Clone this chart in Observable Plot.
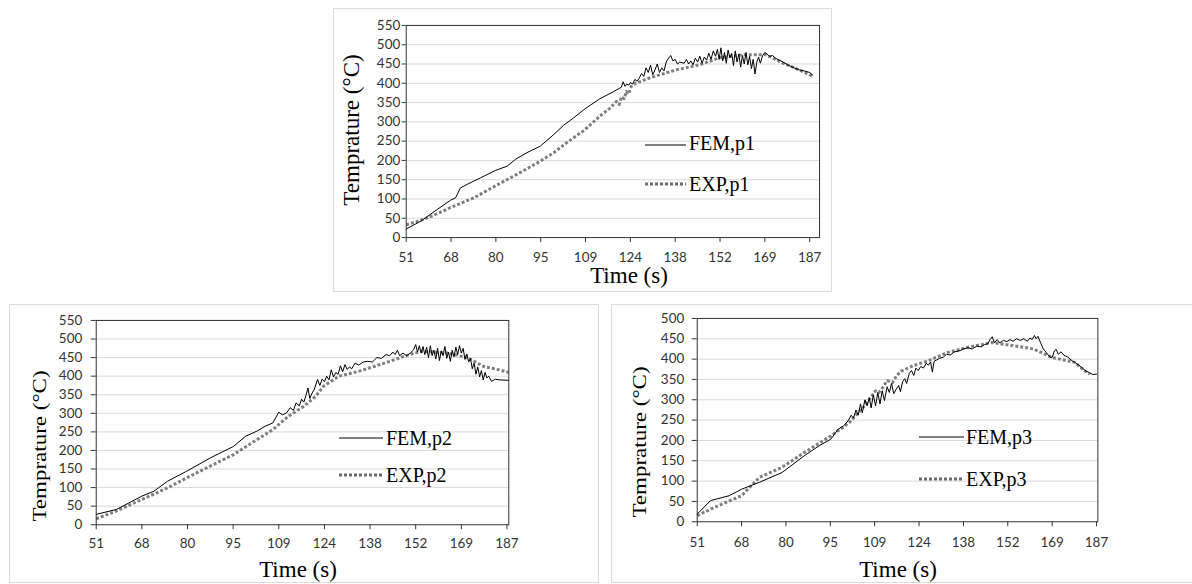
<!DOCTYPE html>
<html>
<head>
<meta charset="utf-8">
<script src="https://cdn.jsdelivr.net/npm/d3@7"></script>
<script src="https://cdn.jsdelivr.net/npm/@observablehq/plot@0.6"></script>
<style>
  html, body { margin: 0; padding: 0; background: #fff; }
  body { width: 1192px; height: 584px; position: relative; overflow: hidden; }
  .panel { position: absolute; box-sizing: border-box; border: 1px solid #dcdcdc; background: #fff; }
  .panel svg { display: block; }
  #overlay { position: absolute; left: 0; top: 0; pointer-events: none; }
  #overlay text { font-family: "Liberation Serif", "Times New Roman", serif; fill: #000; }
</style>
</head>
<body>
<div id="p1" class="panel" style="left:333px;top:8px;width:499px;height:284px;"></div>
<div id="p2" class="panel" style="left:9px;top:304px;width:590px;height:279px;"></div>
<div id="p3" class="panel" style="left:611px;top:304px;width:590px;height:279px;"></div>
<svg id="overlay" width="1192" height="584"></svg>
<script>
// Category-axis tick labels (Time, s) — evenly spaced categories
const tickLabels = [51, 68, 80, 95, 109, 124, 138, 152, 169, 187];

// Series: [category position, temperature °C]
const fem1 = [[0,22],[0.33,43],[0.62,67],[0.99,97],[1.10,103],[1.21,129],[1.36,138],[1.66,155],[1.99,174],[2.25,185],[2.44,203],[2.69,220],[2.99,237],[3.29,267],[3.51,291],[3.73,310],[3.99,334],[4.32,360],[4.62,378],
  [4.80,390],[4.84,404],[4.88,392],[4.92,398],[4.96,395],[5.00,402],[5.05,398],[5.10,410],[5.15,405],
  [5.20,414],[5.25,425],[5.30,418],[5.35,440],[5.40,428],[5.45,447],[5.50,422],[5.55,435],[5.60,450],[5.65,428],[5.70,440],[5.75,432],[5.80,455],[5.85,465],[5.90,472],[5.95,458],[6.00,462],[6.05,450],[6.10,455],[6.20,452],[6.25,462],[6.30,450],[6.35,458],[6.40,448],[6.45,465],[6.50,455],[6.55,470],[6.60,452],[6.65,468],[6.70,460],[6.75,478],[6.80,462],[6.85,484],
  [6.90,470],[6.94,488],[6.98,462],[7.02,492],[7.06,458],[7.10,480],[7.14,452],[7.18,486],[7.22,466],[7.26,478],[7.30,446],[7.34,484],[7.38,455],[7.42,476],[7.46,442],[7.50,472],[7.54,450],[7.58,480],[7.62,448],[7.66,470],[7.70,438],[7.74,462],[7.78,424],[7.82,455],[7.86,468],[7.90,452],[7.95,472],[8.00,480],
  [8.05,476],[8.10,470],[8.17,472],[8.25,464],[8.36,458],[8.45,452],[8.54,446],[8.65,440],[8.76,435],[8.88,432],[9.00,428],[9.07,421]];
const exp1 = [[0,33],[0.33,45],[0.62,58],[0.99,78],[1.51,103],[1.99,134],[2.47,164],[2.99,198],[3.29,220],[3.58,246],[3.99,280],[4.32,315],[4.54,335],[4.69,353],[4.75,345],[4.80,365],[4.86,360],[4.91,379],[4.96,372],[5.02,392],[5.06,397],[5.43,414],[5.80,427],[6.03,435],[6.54,448],[6.99,466],[7.51,474],[8.02,474],[8.39,453],[8.76,435],[9.07,418]];

const fem2 = [[0,28],[0.44,41],[1.0,77],[1.26,90],[1.56,117],[1.98,144],[2.50,180],[3.01,211],[3.27,238],[3.52,252],[3.70,265],[3.87,274],
  [4.00,303],[4.08,296],[4.17,301],[4.25,315],[4.32,308],[4.38,328],[4.45,320],[4.50,338],[4.55,330],[4.60,350],[4.64,368],[4.68,340],[4.72,352],[4.78,365],[4.85,391],[4.90,375],[4.95,392],[5.00,385],[5.05,400],[5.10,390],[5.15,417],[5.20,398],[5.25,410],[5.30,405],[5.35,428],[5.40,412],[5.45,431],[5.50,418],[5.55,425],[5.60,420],[5.67,435],[5.75,430],[5.85,438],[5.95,440],[6.05,438],[6.15,450],[6.25,448],[6.35,458],[6.43,455],[6.50,465],[6.55,458],[6.60,470],[6.65,455],[6.72,462],[6.80,455],[6.88,462],[6.95,470],
  [7.00,485],[7.04,465],[7.08,482],[7.12,462],[7.16,480],[7.20,458],[7.24,478],[7.28,450],[7.32,482],[7.36,455],[7.40,470],[7.44,446],[7.48,475],[7.52,442],[7.56,468],[7.60,455],[7.64,480],[7.68,448],[7.72,465],[7.76,440],[7.80,470],[7.84,452],[7.88,478],[7.92,458],[7.96,482],[8.00,462],[8.04,475],[8.08,445],[8.12,460],[8.16,438],[8.20,448],[8.24,420],[8.28,435],[8.32,405],[8.36,425],[8.40,398],[8.44,415],[8.48,390],[8.52,410],[8.56,395],[8.60,400],[8.66,386],[8.75,392],[8.83,390],[9.00,389],[9.04,389]];
const exp2 = [[0,16],[0.44,37],[1.0,68],[1.56,99],[1.98,126],[2.50,158],[3.01,189],[3.52,229],[3.87,256],[4.21,292],[4.55,319],[4.81,346],[4.98,373],[5.32,400],[5.75,413],[6.09,426],[6.43,440],[6.86,458],[7.12,467],[7.72,462],[8.15,449],[8.49,426],[8.83,417],[9.04,410]];

const fem3 = [[0,19],[0.30,52],[0.72,64],[1.0,80],[1.40,97],[1.91,121],[2.41,162],[2.75,187],[3.01,203],[3.18,228],
  [3.30,236],[3.40,248],[3.47,262],[3.52,255],[3.58,275],[3.63,262],[3.68,290],[3.72,268],[3.78,300],[3.83,285],[3.88,305],[3.92,280],[3.97,312],[4.02,285],[4.07,318],[4.12,290],[4.17,322],[4.22,298],[4.28,332],[4.33,318],[4.38,340],[4.43,315],[4.48,325],[4.54,335],[4.58,320],[4.63,345],[4.68,352],[4.72,340],[4.78,365],[4.83,372],[4.88,360],[4.93,378],[4.98,372],[5.04,382],[5.10,378],[5.16,390],[5.21,385],[5.26,393],[5.30,368],[5.34,395],[5.40,398],[5.46,402],[5.55,405],[5.62,412],[5.70,410],[5.80,418],[5.90,420],[6.00,425],[6.10,428],[6.20,425],[6.30,432],[6.40,430],[6.48,436],[6.55,438],[6.60,448],[6.65,455],[6.70,440],[6.76,448],[6.82,440],[6.90,446],[6.98,443],[7.05,448],[7.12,444],[7.20,450],[7.28,446],[7.36,450],[7.44,444],[7.50,452],[7.55,448],[7.60,458],[7.64,450],[7.68,456],[7.74,440],[7.80,425],[7.87,416],[7.95,405],[8.00,404],[8.05,420],[8.09,424],[8.14,412],[8.20,418],[8.26,410],[8.35,405],[8.45,396],[8.51,392],[8.60,385],[8.68,378],[8.76,371],[8.85,366],[8.92,362],[9.00,363]];
const exp3 = [[0,15],[0.38,35],[1.0,64],[1.40,109],[1.91,134],[2.41,170],[3.01,211],[3.43,244],[3.77,285],[3.94,310],[4.02,322],[4.10,318],[4.18,330],[4.28,347],[4.40,342],[4.50,360],[4.61,371],[4.87,384],[5.21,396],[5.63,416],[6.14,430],[6.65,441],[7.07,434],[7.58,425],[8.0,404],[8.51,392],[8.76,369],[8.85,363]];

const yTitle = "Temprature (°C)";
const xTitle = "Time (s)";
const seriesNames = [["FEM,p1", "EXP,p1"], ["FEM,p2", "EXP,p2"], ["FEM,p3", "EXP,p3"]];

function makeChart(o) {
  return Plot.plot({
    width: o.width, height: o.height,
    marginLeft: o.ml, marginRight: o.mr, marginTop: o.mt, marginBottom: o.mb,
    style: {fontFamily: "Lato, 'Liberation Sans', sans-serif", fontSize: "13.5px", color: "#333", background: "transparent", overflow: "visible"},
    x: {domain: [0, o.xmax]},
    y: {domain: [0, o.ymax]},
    marks: [
      Plot.gridY(d3.range(50, o.ymax + 1, 50), {stroke: "#d9d9d9", strokeOpacity: 1, strokeWidth: 1}),
      Plot.axisY(d3.range(0, o.ymax + 1, 50), {tickSize: o.yts, tickPadding: o.ytp, label: null, stroke: "#333"}),
      Plot.axisX(d3.range(tickLabels.length), {tickFormat: i => tickLabels[i], tickSize: 5, tickPadding: o.xtp, label: null, stroke: "#333"}),
      Plot.line(o.exp, {x: d => d[0], y: d => d[1], stroke: "#808080", strokeWidth: 3, strokeDasharray: "3 2", strokeLinecap: "butt"}),
      Plot.line(o.fem, {x: d => d[0], y: d => d[1], stroke: "#000", strokeWidth: 1}),
      Plot.frame({stroke: "#333", strokeWidth: 1})
    ]
  });
}

document.getElementById("p1").append(makeChart({width: 499, height: 284, ml: 72, mr: 12, mt: 16, mb: 55, xmax: 9.22, ymax: 550, yts: 4, ytp: 2, xtp: 9.5, fem: fem1, exp: exp1}));
document.getElementById("p2").append(makeChart({width: 590, height: 279, ml: 86, mr: 90, mt: 15, mb: 59, xmax: 9.04, ymax: 550, yts: 5, ytp: 9, xtp: 8.5, fem: fem2, exp: exp2}));
document.getElementById("p3").append(makeChart({width: 590, height: 279, ml: 85, mr: 103, mt: 13, mb: 62, xmax: 9.03, ymax: 500, yts: 5, ytp: 8, xtp: 10.5, fem: fem3, exp: exp3}));

// Titles and legends
const ov = d3.select("#overlay");
const titles = [
  {yx: 359, yy: 130, ys: 1, xx: 629, xy: 283},
  {yx: 46, yy: 446, ys: 0.8, xx: 298, xy: 577},
  {yx: 646, yy: 442, ys: 0.8, xx: 898, xy: 577}
];
titles.forEach(t => {
  ov.append("text").attr("transform", `translate(${t.yx},${t.yy}) rotate(-90) scale(1,${t.ys})`)
    .attr("text-anchor", "middle").attr("font-size", 23).text(yTitle);
  ov.append("text").attr("x", t.xx).attr("y", t.xy).attr("text-anchor", "middle").attr("font-size", 23).text(xTitle);
});
const legends = [
  {x0: 645, x1: 686, tx: 689, y1: 145, b1: 150, y2: 184, b2: 190.5},
  {x0: 339, x1: 383, tx: 386, y1: 438, b1: 445, y2: 475, b2: 481.5},
  {x0: 919, x1: 964, tx: 966, y1: 437, b1: 443.5, y2: 479, b2: 485.5}
];
legends.forEach((l, i) => {
  ov.append("line").attr("x1", l.x0).attr("x2", l.x1).attr("y1", l.y1).attr("y2", l.y1).attr("stroke", "#000").attr("stroke-width", 1);
  ov.append("text").attr("x", l.tx).attr("y", l.b1).attr("font-size", 20).text(seriesNames[i][0]);
  ov.append("line").attr("x1", l.x0).attr("x2", l.x1).attr("y1", l.y2).attr("y2", l.y2).attr("stroke", "#6a6a6a").attr("stroke-width", 3).attr("stroke-dasharray", "3 2");
  ov.append("text").attr("x", l.tx).attr("y", l.b2).attr("font-size", 20).text(seriesNames[i][1]);
});
</script>
</body>
</html>
